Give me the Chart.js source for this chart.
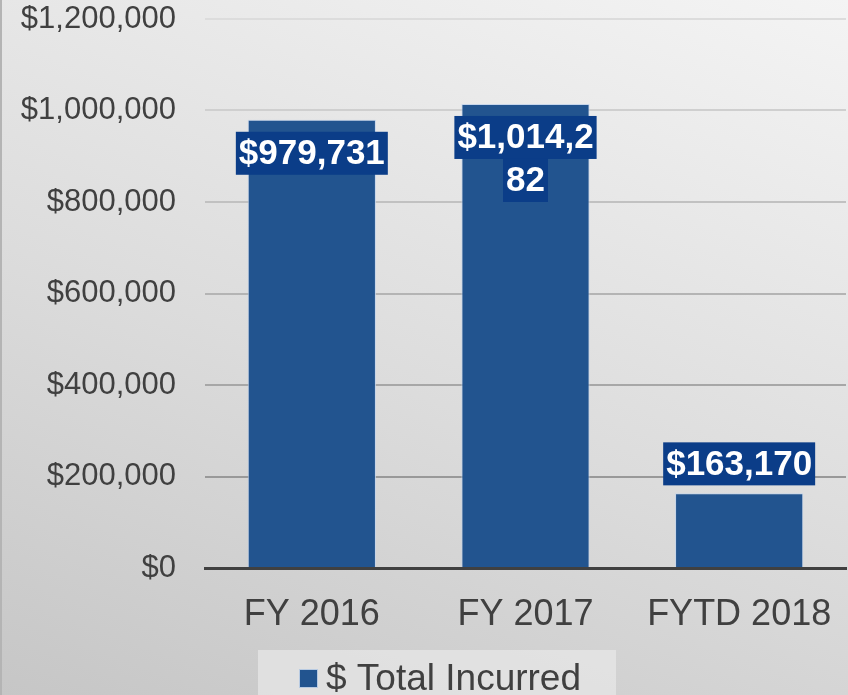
<!DOCTYPE html>
<html>
<head>
<meta charset="utf-8">
<script src="https://cdn.jsdelivr.net/npm/chart.js@4"></script>
<style>
    html, body { margin: 0; padding: 0; }
    body {
        width: 848px; height: 695px; overflow: hidden; position: relative;
        background: linear-gradient(200deg, #f4f4f4 0%, #dcdcdc 55%, #c6c6c6 100%);
    }
    #edge { position: absolute; left: 0; top: 0; width: 2px; height: 695px; background: #b4b4b4; }
    #wrap { position: absolute; left: 0; top: 0; width: 848px; height: 695px; }
</style>
</head>
<body>
<div id="edge"></div>
<div id="wrap"><canvas id="costChart"></canvas></div>
<script>
// data
const categories = ['FY 2016', 'FY 2017', 'FYTD 2018'];
const totalIncurred = [979731, 1014282, 163170];
const seriesName = '$ Total Incurred';
const yTicks = [0, 200000, 400000, 600000, 800000, 1000000, 1200000];

const barBlue = '#22548f';
const labelBlue = '#0b3d88';

const money = v => '$' + v.toLocaleString('en-US');

// value labels with dark blue boxes (wrapped when too wide)
const valueLabels = {
    id: 'valueLabels',
    afterDatasetsDraw(chart) {
        const ctx = chart.ctx;
        const meta = chart.getDatasetMeta(0);
        ctx.save();
        ctx.font = 'bold 35px "Liberation Sans", Arial, sans-serif';
        ctx.textAlign = 'center';
        ctx.textBaseline = 'middle';
        meta.data.forEach((bar, i) => {
            const text = money(totalIncurred[i]);
            // split into lines no wider than 150px
            const lines = [];
            let cur = '';
            for (const ch of text) {
                if (ctx.measureText(cur + ch).width > 150 && cur) {
                    lines.push(cur);
                    cur = ch;
                } else {
                    cur += ch;
                }
            }
            lines.push(cur);
            const lineH = 43;
            const total = lineH * lines.length;
            const barH = bar.base - bar.y;
            let top;
            if (barH > 150) {
                top = bar.y + 12;
            } else {
                top = bar.y - 8 - total;
            }
            lines.forEach((ln, k) => {
                const w = ctx.measureText(ln).width + 6;
                const y0 = top + k * lineH;
                ctx.fillStyle = labelBlue;
                ctx.fillRect(bar.x - w / 2, y0, w, lineH);
                ctx.fillStyle = '#ffffff';
                ctx.fillText(ln, bar.x, y0 + lineH / 2 + 1);
            });
        });
        ctx.restore();
    }
};

// legend box at the bottom
const boxLegend = {
    id: 'boxLegend',
    afterDraw(chart) {
        const ctx = chart.ctx;
        ctx.save();
        ctx.fillStyle = 'rgba(232,232,232,0.7)';
        ctx.fillRect(258, 650, 358, 45);
        ctx.fillStyle = barBlue;
        ctx.strokeStyle = 'rgba(200,215,235,0.9)';
        ctx.lineWidth = 1;
        ctx.fillRect(299, 669, 19, 19);
        ctx.strokeRect(299.5, 669.5, 18, 18);
        ctx.font = '37px "Liberation Sans", Arial, sans-serif';
        ctx.fillStyle = '#404040';
        ctx.textAlign = 'left';
        ctx.textBaseline = 'alphabetic';
        ctx.fillText(seriesName, 326, 690);
        ctx.restore();
    }
};

const chartCtx = document.getElementById('costChart').getContext('2d');
const costChart = new Chart(chartCtx, {
    type: 'bar',
    data: {
        labels: categories,
        datasets: [
            {
                label: seriesName,
                data: totalIncurred,
                backgroundColor: barBlue,
                borderColor: 'rgba(195,212,235,0.9)',
                borderWidth: 1,
                categoryPercentage: 1,
                barPercentage: 0.6
            }
        ]
    },
    options: {
        responsive: true,
        maintainAspectRatio: false,
        animation: false,
        layout: {
            padding: { top: 19, right: 2, bottom: 55, left: 0 }
        },
        scales: {
            y: {
                min: 0,
                max: 1200000,
                afterBuildTicks: axis => { axis.ticks = yTicks.map(v => ({ value: v })); },
                afterFit: axis => { axis.width = 205; axis.paddingTop = 0; axis.paddingBottom = 0; },
                border: { display: false },
                grid: {
                    drawTicks: false,
                    color: c => {
                        const v = c.tick ? c.tick.value : 0;
                        const g = Math.round(140 + (v / 1200000) * 80);
                        return `rgb(${g},${g},${g})`;
                    },
                    lineWidth: 2
                },
                ticks: {
                    padding: 29,
                    color: '#404040',
                    font: { family: '"Liberation Sans", Arial, sans-serif', size: 31 },
                    callback: v => money(v)
                }
            },
            x: {
                border: { display: true, color: '#404040', width: 3 },
                grid: { display: false, drawTicks: false },
                afterFit: axis => { axis.height = 72; axis.paddingRight = 0; axis.paddingLeft = 0; },
                ticks: {
                    padding: 25,
                    color: '#404040',
                    font: { family: '"Liberation Sans", Arial, sans-serif', size: 36 }
                }
            }
        },
        plugins: {
            legend: { display: false },
            tooltip: { enabled: false }
        }
    },
    plugins: [valueLabels, boxLegend]
});
</script>
</body>
</html>
